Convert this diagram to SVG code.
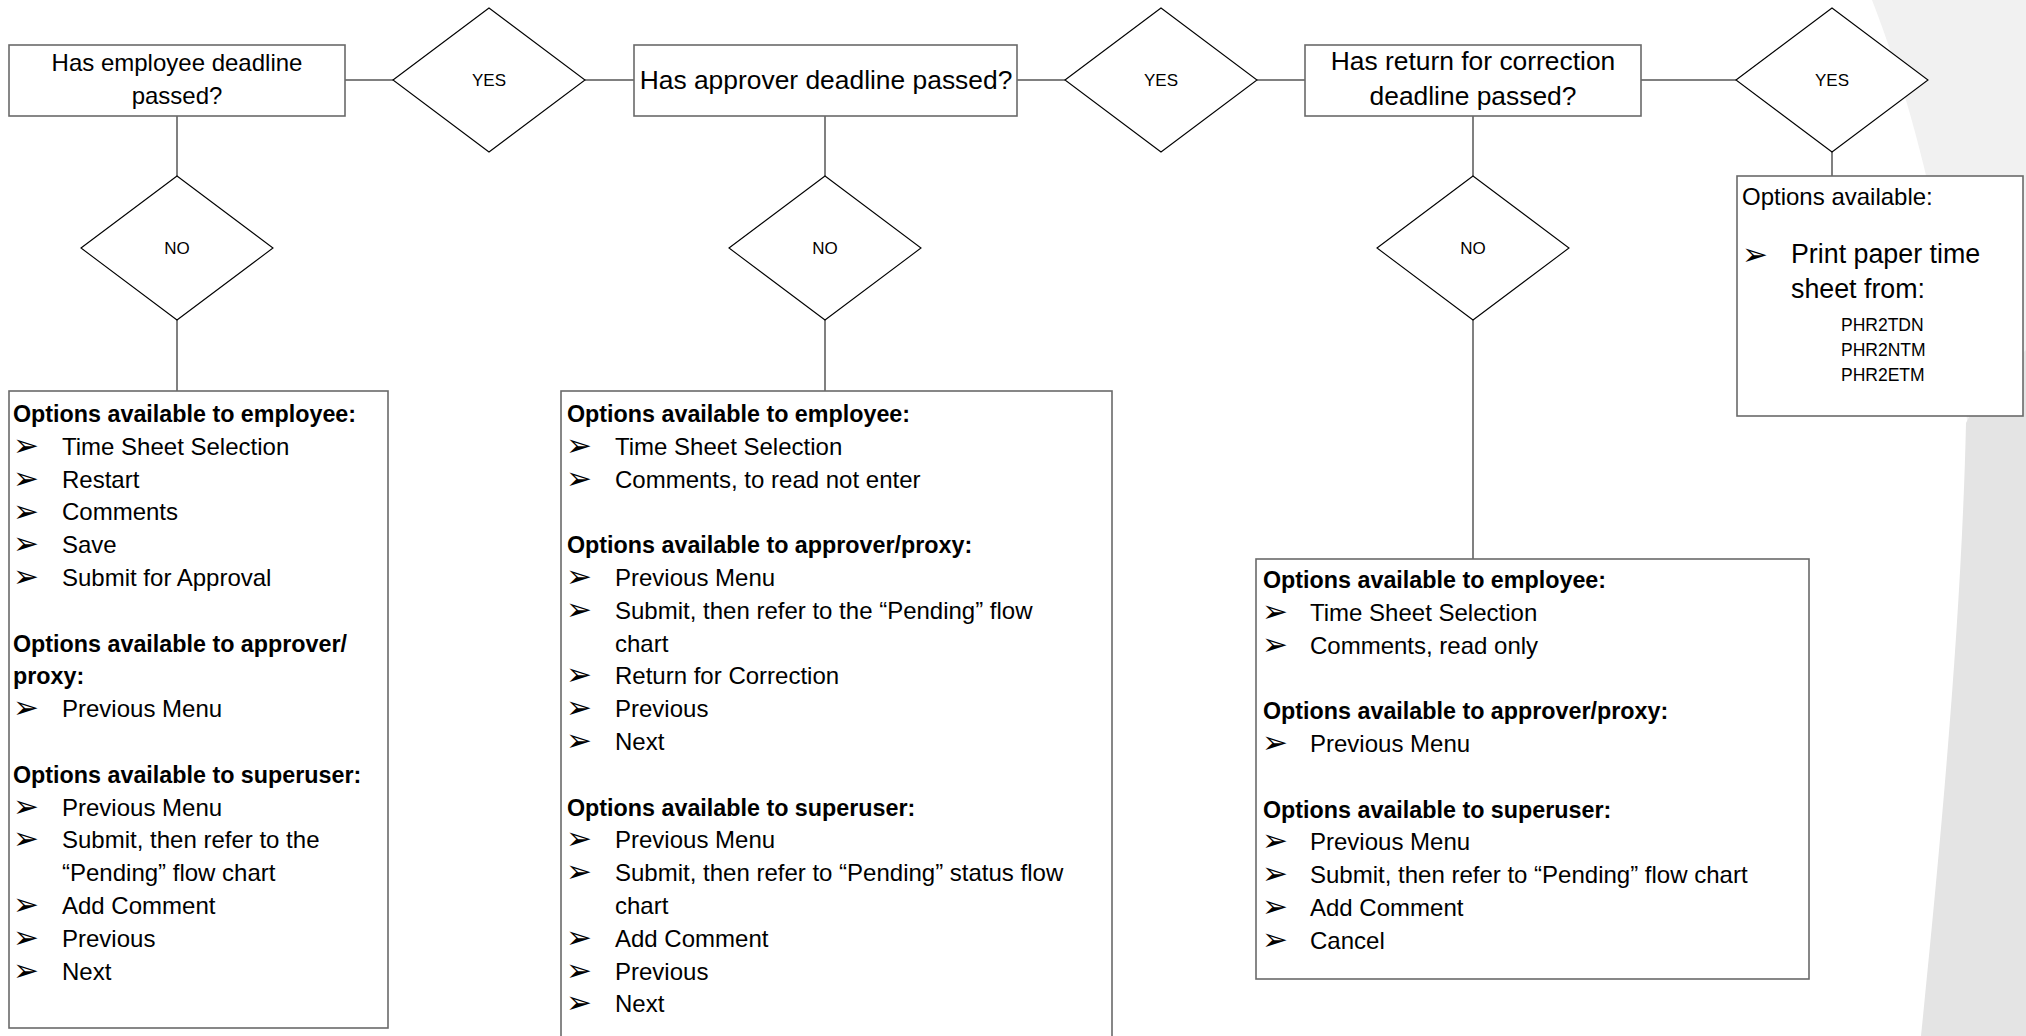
<svg xmlns="http://www.w3.org/2000/svg" width="2026" height="1036" viewBox="0 0 2026 1036">
<style>
.box{fill:#fff;stroke:#6a6a6a;stroke-width:1.6}
.dia{fill:#fff;stroke:#000;stroke-width:1.1}
#connectors line{stroke:#808080;stroke-width:2}
text{font-family:"Liberation Sans",Arial,sans-serif;fill:#000}
.q20{font-size:24px;text-anchor:middle}
.q22{font-size:26.4px;text-anchor:middle}
.lbl{font-size:17px;text-anchor:middle}
.h{font-size:23.3px;font-weight:bold}
.i{font-size:24px}
.b{font-family:"DejaVu Sans",sans-serif;font-size:31px}
.big{font-size:26.8px}
.code{font-size:17.5px}
</style>
<rect x="0" y="0" width="2026" height="1036" fill="#fff"/>
<g id="background">
<path d="M1872,0 C1915,110 1952,260 1968,430 L2026,430 L2026,0 Z" fill="#f1f1f1"/>
<path d="M1966,423 C1962,600 1945,800 1921,1036 L2026,1036 L2026,350 C2000,375 1980,395 1966,423 Z" fill="#e4e4e4"/>
</g>
<g id="connectors">
<line x1="345" y1="80" x2="393" y2="80"/>
<line x1="585" y1="80" x2="634" y2="80"/>
<line x1="1017" y1="80" x2="1065" y2="80"/>
<line x1="1257" y1="80" x2="1305" y2="80"/>
<line x1="1641" y1="80" x2="1736" y2="80"/>
<line x1="1832" y1="152" x2="1832" y2="176"/>
<line x1="177" y1="116" x2="177" y2="176"/>
<line x1="177" y1="320" x2="177" y2="391"/>
<line x1="825" y1="116" x2="825" y2="176"/>
<line x1="825" y1="320" x2="825" y2="391"/>
<line x1="1473" y1="116" x2="1473" y2="176"/>
<line x1="1473" y1="320" x2="1473" y2="559"/>
</g>
<g id="q1">
<rect class="box" x="9" y="45" width="336" height="71"/>
<text class="q20" x="177" y="71">Has employee deadline</text>
<text class="q20" x="177" y="104">passed?</text>
</g>
<g id="yes1">
<polygon class="dia" points="393,80 489,8 585,80 489,152"/>
<text class="lbl" x="489" y="86">YES</text>
</g>
<g id="q2">
<rect class="box" x="634" y="45" width="383" height="71"/>
<text class="q22" x="826" y="89">Has approver deadline passed?</text>
</g>
<g id="yes2">
<polygon class="dia" points="1065,80 1161,8 1257,80 1161,152"/>
<text class="lbl" x="1161" y="86">YES</text>
</g>
<g id="q3">
<rect class="box" x="1305" y="45" width="336" height="71"/>
<text class="q22" x="1473" y="70">Has return for correction</text>
<text class="q22" x="1473" y="105">deadline passed?</text>
</g>
<g id="yes3">
<polygon class="dia" points="1736,80 1832,8 1928,80 1832,152"/>
<text class="lbl" x="1832" y="86">YES</text>
</g>
<g id="no1">
<polygon class="dia" points="81,248 177,176 273,248 177,320"/>
<text class="lbl" x="177" y="254">NO</text>
</g>
<g id="no2">
<polygon class="dia" points="729,248 825,176 921,248 825,320"/>
<text class="lbl" x="825" y="254">NO</text>
</g>
<g id="no3">
<polygon class="dia" points="1377,248 1473,176 1569,248 1473,320"/>
<text class="lbl" x="1473" y="254">NO</text>
</g>
<g id="paper">
<rect class="box" x="1737" y="176" width="286" height="240"/>
<text class="i" x="1742" y="205">Options available:</text>
<text class="b" x="1742" y="265">➢</text>
<text class="big" x="1791" y="263">Print paper time</text>
<text class="big" x="1791" y="298">sheet from:</text>
<text class="code" x="1841" y="331">PHR2TDN</text>
<text class="code" x="1841" y="356">PHR2NTM</text>
<text class="code" x="1841" y="381">PHR2ETM</text>
</g>
<g id="opts1">
<rect class="box" x="9" y="391" width="379" height="637"/>
<text class="h" x="13" y="422">Options available to employee:</text>
<text class="b" x="13" y="456">➢</text><text class="i" x="62" y="454.8">Time Sheet Selection</text>
<text class="b" x="13" y="489">➢</text><text class="i" x="62" y="487.6">Restart</text>
<text class="b" x="13" y="522">➢</text><text class="i" x="62" y="520.4">Comments</text>
<text class="b" x="13" y="554">➢</text><text class="i" x="62" y="553.2">Save</text>
<text class="b" x="13" y="587">➢</text><text class="i" x="62" y="586">Submit for Approval</text>
<text class="h" x="13" y="651.6">Options available to approver/</text>
<text class="h" x="13" y="684.4">proxy:</text>
<text class="b" x="13" y="718">➢</text><text class="i" x="62" y="717.2">Previous Menu</text>
<text class="h" x="13" y="782.8">Options available to superuser:</text>
<text class="b" x="13" y="817">➢</text><text class="i" x="62" y="815.6">Previous Menu</text>
<text class="b" x="13" y="849">➢</text><text class="i" x="62" y="848.4">Submit, then refer to the</text>
<text class="i" x="62" y="881.2">“Pending” flow chart</text>
<text class="b" x="13" y="915">➢</text><text class="i" x="62" y="914">Add Comment</text>
<text class="b" x="13" y="948">➢</text><text class="i" x="62" y="946.8">Previous</text>
<text class="b" x="13" y="981">➢</text><text class="i" x="62" y="979.6">Next</text>
</g>
<g id="opts2">
<rect class="box" x="561" y="391" width="551" height="660"/>
<text class="h" x="567" y="422">Options available to employee:</text>
<text class="b" x="566" y="456">➢</text><text class="i" x="615" y="454.8">Time Sheet Selection</text>
<text class="b" x="566" y="489">➢</text><text class="i" x="615" y="487.6">Comments, to read not enter</text>
<text class="h" x="567" y="553.2">Options available to approver/proxy:</text>
<text class="b" x="566" y="587">➢</text><text class="i" x="615" y="586">Previous Menu</text>
<text class="b" x="566" y="620">➢</text><text class="i" x="615" y="618.8">Submit, then refer to the “Pending” flow</text>
<text class="i" x="615" y="651.6">chart</text>
<text class="b" x="566" y="685">➢</text><text class="i" x="615" y="684.4">Return for Correction</text>
<text class="b" x="566" y="718">➢</text><text class="i" x="615" y="717.2">Previous</text>
<text class="b" x="566" y="751">➢</text><text class="i" x="615" y="750">Next</text>
<text class="h" x="567" y="815.6">Options available to superuser:</text>
<text class="b" x="566" y="849">➢</text><text class="i" x="615" y="848.4">Previous Menu</text>
<text class="b" x="566" y="882">➢</text><text class="i" x="615" y="881.2">Submit, then refer to “Pending” status flow</text>
<text class="i" x="615" y="914">chart</text>
<text class="b" x="566" y="948">➢</text><text class="i" x="615" y="946.8">Add Comment</text>
<text class="b" x="566" y="981">➢</text><text class="i" x="615" y="979.6">Previous</text>
<text class="b" x="566" y="1013">➢</text><text class="i" x="615" y="1012.4">Next</text>
</g>
<g id="opts3">
<rect class="box" x="1256" y="559" width="553" height="420"/>
<text class="h" x="1263" y="588">Options available to employee:</text>
<text class="b" x="1262" y="622">➢</text><text class="i" x="1310" y="620.8">Time Sheet Selection</text>
<text class="b" x="1262" y="655">➢</text><text class="i" x="1310" y="653.6">Comments, read only</text>
<text class="h" x="1263" y="719.2">Options available to approver/proxy:</text>
<text class="b" x="1262" y="753">➢</text><text class="i" x="1310" y="752">Previous Menu</text>
<text class="h" x="1263" y="817.6">Options available to superuser:</text>
<text class="b" x="1262" y="851">➢</text><text class="i" x="1310" y="850.4">Previous Menu</text>
<text class="b" x="1262" y="884">➢</text><text class="i" x="1310" y="883.2">Submit, then refer to “Pending” flow chart</text>
<text class="b" x="1262" y="917">➢</text><text class="i" x="1310" y="916">Add Comment</text>
<text class="b" x="1262" y="950">➢</text><text class="i" x="1310" y="948.8">Cancel</text>
</g>
</svg>
